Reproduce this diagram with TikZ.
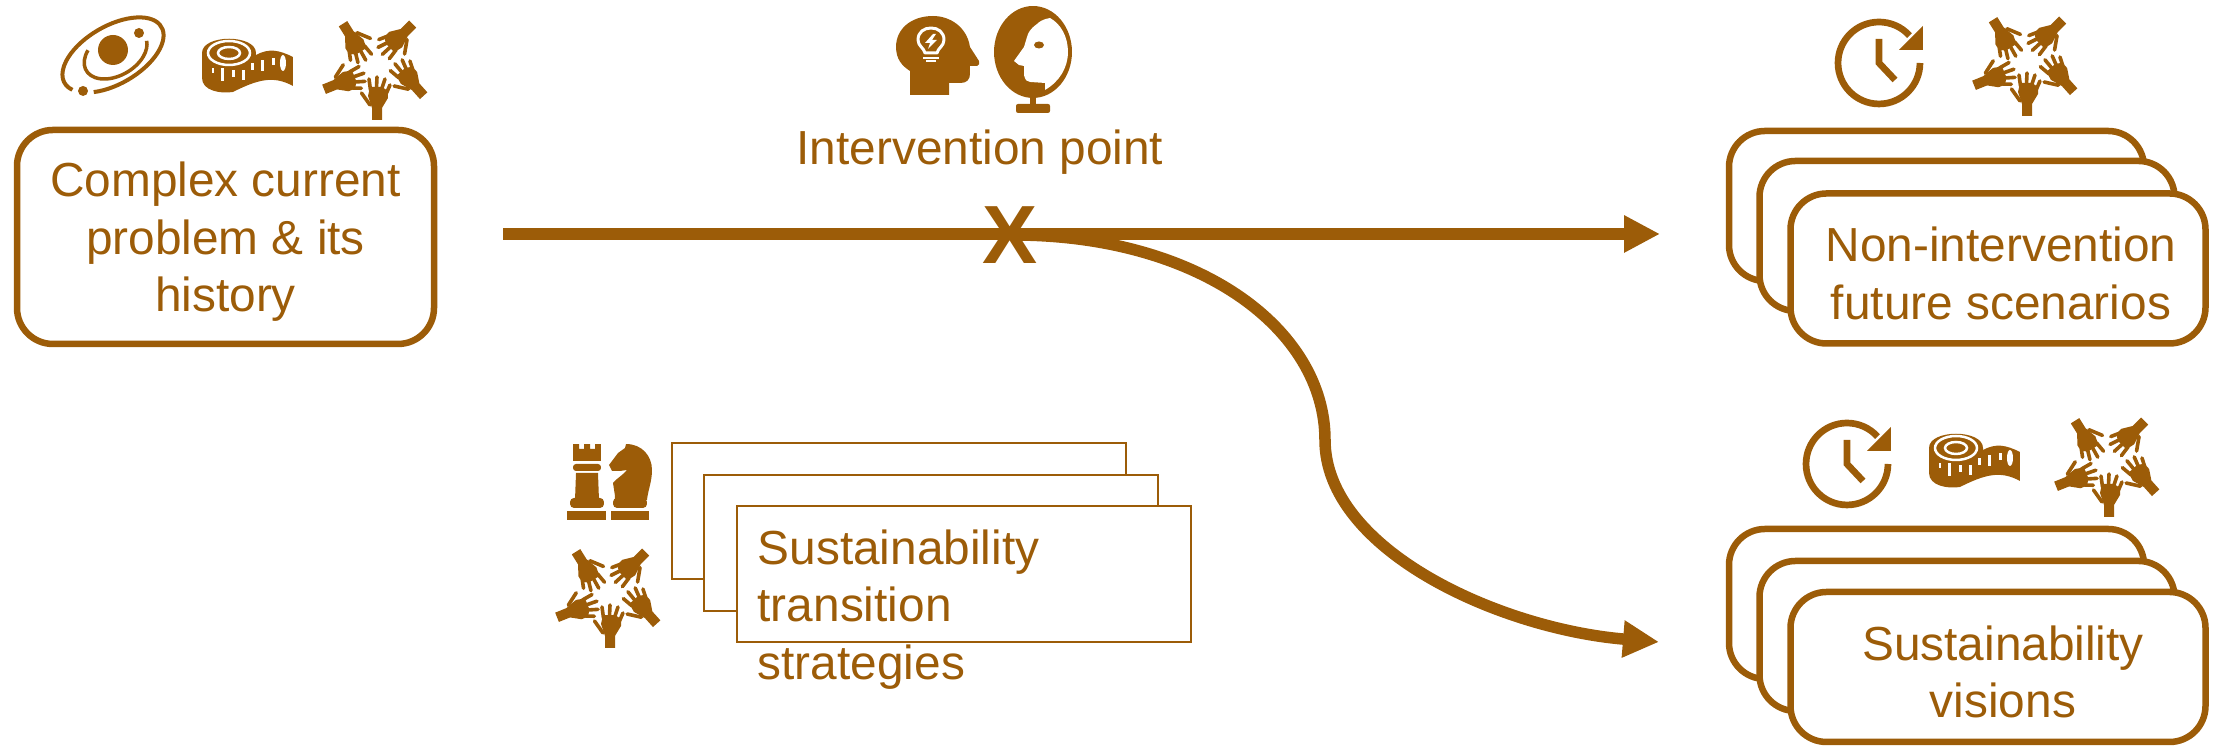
\documentclass[tikz,border=0pt]{standalone}
\usepackage{fontspec}
\setmainfont{Liberation Sans}
\usetikzlibrary{arrows.meta}
\definecolor{ochre}{HTML}{9C5C08}
\def\boxtext{\fontsize{13.6}{16.4}\selectfont}
\def\downstrut{\rule{0pt}{12.6pt}}
\tikzset{
	softbox/.style={draw=ochre, fill=white, line width=0.065cm, rounded corners=0.36cm, minimum width=4.15cm, minimum height=1.5cm, inner sep=0pt, align=center, text=ochre, font=\boxtext},
	thinbox/.style={draw=ochre, fill=white, line width=0.02cm, minimum width=4.54cm, minimum height=1.36cm, inner sep=0pt},
	label/.style={inner sep=0pt, align=center, text=ochre, font=\boxtext},
	flow/.style={draw=ochre, line width=0.115cm, -{Triangle[length=0.36cm, width=0.35cm]}},
	finger/.style={ochre, line width=0.036cm, line cap=round},
	handring/.pic={
		\begin{scope}[x=0.01cm, y=0.01cm]
			\foreach \wx/\wy/\turn in {0/0/0, -53/30.7/-68, -34/96.3/-148, 35.7/96/-225, 46.7/24.3/-318} {
				\begin{scope}[shift={(\wx, \wy)}, rotate=\turn]
					\fill[ochre] (-5, 0) -- (5, 0) -- (5, 12) -- (11, 22) -- (11, 29) -- (5, 33) -- (-7, 33) -- (-9, 24) -- (-5, 12) -- cycle;
					\draw[finger] (-7, 15) -- (-15.5, 27);
					\draw[finger] (-6.5, 30) -- (-8, 41);
					\draw[finger] (-0.5, 32) -- (0, 43);
					\draw[finger] (5, 32) -- (8, 41);
					\draw[finger] (9.5, 27) -- (13, 35);
				\end{scope}
			}
		\end{scope}
	},
	tapeicon/.pic={
		\begin{scope}[x=0.01cm, y=0.01cm]
			\fill[ochre] (-27, 10) .. controls (-27, 29) and (27, 29) .. (27, 10) -- (27, 8) .. controls (40, 15) and (50, 13) .. (64, 6) -- (64, -23) .. controls (44, -12) and (28, -17) .. (4, -29) .. controls (-8, -31) and (-27, -28) .. (-27, -15) -- cycle;
			\draw[white, line width=0.025cm] (0, 10) ellipse (21 and 12);
			\draw[white, line width=0.025cm] (0, 10) ellipse (11 and 6);
			\fill[white] (-17, -5) rectangle (-15, -10);
			\fill[white] (-8, -5) rectangle (-5, -18);
			\fill[white] (3, -7) rectangle (6, -14);
			\fill[white] (13, -7) rectangle (16, -17);
			\fill[white] (22, 0) rectangle (25, -7);
			\fill[white] (32, 3) rectangle (35, -8);
			\fill[white] (43, 5) rectangle (46, -2);
			\fill[white] (54, 0) ellipse (3 and 8);
		\end{scope}
	},
	clockicon/.pic={
		\begin{scope}[x=0.01cm, y=0.01cm]
			\draw[ochre, line width=0.067cm] (41, 0) arc (0:-318:41);
			\fill[ochre] (44, 37) -- (44, 13) -- (20, 13) -- cycle;
			\draw[ochre, line width=0.067cm] (0, 24) -- (0, 0) -- (16, -17);
		\end{scope}
	},
	orbiticon/.pic={
		\begin{scope}[x=0.01cm, y=0.01cm]
			\fill[ochre] (0, 5) circle (15);
			\fill[ochre] (26, 22) circle (5);
			\fill[ochre] (-30, -36) circle (5);
			\begin{scope}[rotate=30]
				\draw[ochre, line width=0.04cm] ({56*cos(231)}, {29*sin(231)}) arc (231:560:56 and 29);
				\draw[ochre, line width=0.035cm] ({3+34*cos(131)}, {22*sin(131)}) arc (131:348:34 and 22);
			\end{scope}
		\end{scope}
	},
	headicon/.pic={
		\begin{scope}[x=0.01cm, y=0.01cm]
			\fill[ochre] (-23, -38) -- (16, -38) -- (16, -26) -- (28, -26) .. controls (34, -26) and (37, -22) .. (37, -17) -- (37, -9) -- (44, -9) .. controls (46, -9) and (47, -6) .. (46, -4) -- (37, 10) .. controls (34, 30) and (17, 41) .. (0, 41) .. controls (-22, 41) and (-37, 28) .. (-37, 10) .. controls (-37, -2) and (-31, -9) .. (-23, -14) -- cycle;
			\draw[white, line width=0.03cm, line join=round] (-8, 4) .. controls (-9, 9) and (-15, 11) .. (-15, 17) .. controls (-15, 25) and (-9, 29) .. (-2, 29) .. controls (5, 29) and (11, 25) .. (11, 17) .. controls (11, 11) and (5, 9) .. (4, 4) -- cycle;
			\fill[white] (0, 23) -- (-8, 14) -- (-3, 14) -- (-5, 8) -- (4, 17) -- (-1, 17) -- (3, 23) -- cycle;
			\fill[white] (-10, -2) rectangle (6, 0);
			\fill[white] (-7, -5) rectangle (3, -3);
		\end{scope}
	},
	mirroricon/.pic={
		\begin{scope}[x=0.01cm, y=0.01cm]
			\fill[ochre] (0, 0) ellipse (39 and 46);
			\fill[ochre] (-3, -44) rectangle (3, -53);
			\fill[ochre, rounded corners=0.02cm] (-17, -52) rectangle (17, -61);
			\fill[white] (17, 34) .. controls (10, 33) and (6, 30) .. (4, 28) .. controls (-3, 23) and (-5, 19) .. (-6, 15) -- (-9, 5) -- (-19, -9) -- (-14, -13) -- (-9, -14) -- (-9, -23) .. controls (-8, -28) and (-6, -30) .. (-3, -30) -- (12, -31) -- (12, -38) .. controls (26, -30) and (35, -16) .. (35, 0) .. controls (35, 15) and (28, 28) .. (17, 34) -- cycle;
			\fill[ochre] (6, 7) ellipse (5 and 3.5);
		\end{scope}
	},
	rookicon/.pic={
		\begin{scope}[x=0.01cm, y=0.01cm]
			\fill[ochre] (-20, -38) rectangle (19, -29);
			\fill[ochre, rounded corners=0.04cm] (-17, -26) rectangle (17, -16);
			\fill[ochre] (-11, 9) -- (11, 9) -- (12, -18) -- (-12, -18) -- cycle;
			\fill[ochre, rounded corners=0.03cm] (-14, 11) rectangle (14, 18);
			\fill[ochre] (-14, 21) -- (14, 21) -- (14, 38) -- (8, 38) -- (8, 33) -- (3, 33) -- (3, 38) -- (-3, 38) -- (-3, 33) -- (-8, 33) -- (-8, 38) -- (-14, 38) -- cycle;
		\end{scope}
	},
	knighticon/.pic={
		\begin{scope}[x=0.01cm, y=0.01cm]
			\fill[ochre] (-19, -38) rectangle (19, -29);
			\fill[ochre, rounded corners=0.04cm] (-17, -26) rectangle (17, -16);
			\fill[ochre] (-4, 38) .. controls (12, 38) and (22, 26) .. (22, 12) .. controls (22, 0) and (18, -8) .. (17, -18) -- (-15, -18) .. controls (-15, -8) and (-17, -6) .. (-17, -1) .. controls (-13, 4) and (-8, 6) .. (-3, 12) -- (-10, 11) -- (-18, 11) -- (-21, 17) -- (-12, 29) -- (-5, 34) -- cycle;
		\end{scope}
	}
}
\begin{document}
\begin{tikzpicture}
	\useasboundingbox (0, 0) rectangle (22.22, 7.46);
	
	\pic at (1.13, 6.91) {orbiticon};
	\pic at (2.29, 6.83) {tapeicon};
	\pic at (3.77, 6.26) {handring};
	\node[softbox, minimum width=4.17cm, minimum height=2.14cm] (problem) at (2.255, 5.09) {\downstrut Complex current\\problem \& its\\history};
	
	\pic at (9.33, 6.89) {headicon};
	\pic at (10.33, 6.94) {mirroricon};
	\node[label] (intervention) at (9.8, 5.94) {Intervention point};
	
	\coordinate (flowstart) at (5.03, 5.12);
	\coordinate (flowtop) at (16.6, 5.12);
	\coordinate (flowmid) at (13.25, 3.06);
	\coordinate (flowlow) at (16.59, 1.04);
	\node[inner sep=0pt, text=ochre, font=\fontsize{23.5}{24}\selectfont\bfseries] (crossmark) at (10.1, 5.11) {X};
	\draw[flow] (flowstart) -- (flowtop);
	\draw[flow] (crossmark.center) .. controls (12, 5.12) and (13.25, 4.16) .. (flowmid) .. controls (13.25, 1.96) and (15, 1.17) .. (flowlow);
	
	\pic at (18.79, 6.83) {clockicon};
	\pic at (20.27, 6.30) {handring};
	\node[softbox] (futureback) at (19.365, 5.4) {};
	\node[softbox] (futuremid) at (19.67, 5.1) {};
	\node[softbox] (future) at (19.98, 4.775) {\downstrut\hspace*{0.06cm}Non-intervention\\\hspace*{0.06cm}future scenarios};
	
	\pic at (18.47, 2.82) {clockicon};
	\pic at (19.56, 2.88) {tapeicon};
	\pic at (21.09, 2.29) {handring};
	\node[softbox] (visionback) at (19.365, 1.42) {};
	\node[softbox] (visionmid) at (19.67, 1.1) {};
	\node[softbox] (vision) at (19.98, 0.79) {\downstrut\hspace*{0.1cm}Sustainability\\\hspace*{0.1cm}visions};
	
	\pic at (5.87, 2.64) {rookicon};
	\pic at (6.3, 2.64) {knighticon};
	\pic at (6.1, 0.98) {handring};
	\node[thinbox] (strategyback) at (8.99, 2.35) {};
	\node[thinbox] (strategymid) at (9.31, 2.03) {};
	\node[thinbox] (strategy) at (9.635, 1.72) {};
	\node[label, align=left, anchor=west] (strategylabel) at (7.57, 1.365) {Sustainability\\transition\\strategies};
\end{tikzpicture}
\end{document}
